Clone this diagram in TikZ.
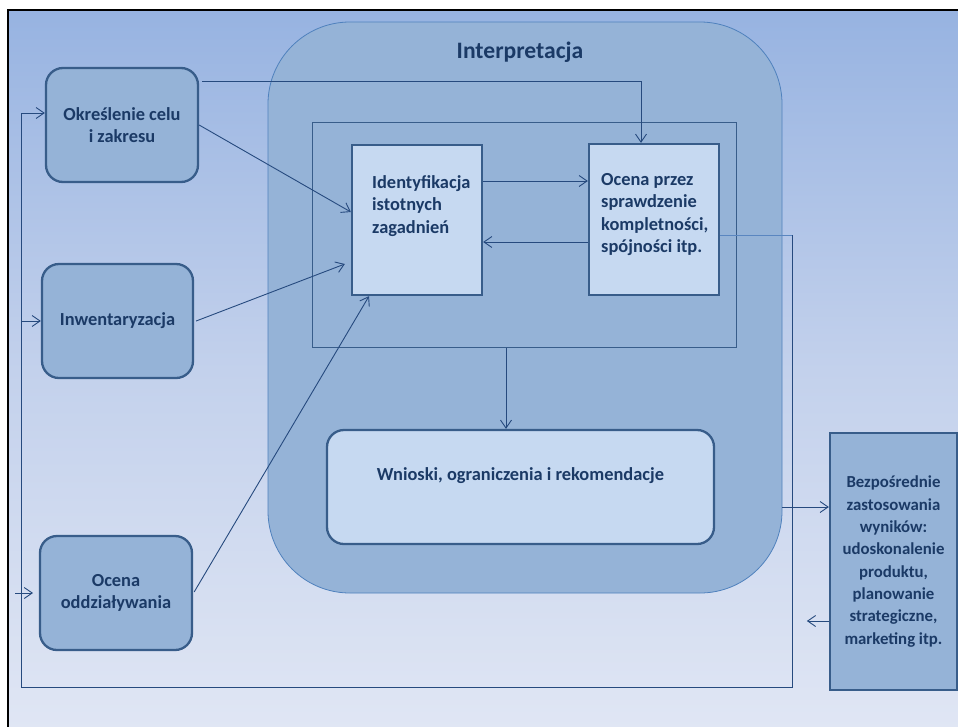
\documentclass[tikz,border=0pt]{standalone}
\usepackage{fontspec}
\setmainfont{Carlito}
\usetikzlibrary{arrows.meta,calc}
\definecolor{bgtop}{HTML}{97B3E1}
\definecolor{bgmid}{HTML}{C3D1EC}
\definecolor{bgbot}{HTML}{E0E6F4}
\definecolor{boxfill}{HTML}{95B3D7}
\definecolor{lightfill}{HTML}{C6D9F1}
\definecolor{boxline}{HTML}{385D8A}
\definecolor{bigline}{HTML}{4F81BD}
\definecolor{txt}{HTML}{1B3A66}
\definecolor{conncol}{HTML}{264A7E}
\definecolor{loopcol}{HTML}{5A86C0}
\begin{document}
\begin{tikzpicture}[x=1pt,y=-1pt,
  lbl/.style={text=txt,font=\bfseries\fontsize{18.4}{22.3}\selectfont,inner sep=0pt},
  box/.style={lbl,draw=boxline,line width=2.3pt,fill=boxfill,rounded corners=17pt,align=center},
  sqbox/.style={draw=boxline,line width=2.3pt,fill=lightfill,inner sep=0pt},
  conn/.style={draw=conncol,line width=0.9pt,-{Straight Barb[length=8pt,width=11pt]}},
  plain/.style={draw=conncol,line width=0.9pt}]
\useasboundingbox (0,0) rectangle (958,726);
\fill[white] (0,0) rectangle (958,726);
\shade[top color=bgtop,bottom color=bgbot,middle color=bgmid] (8,10) rectangle (962,730);
\draw[line width=2.5pt] (8,730) -- (8,10) -- (962,10);

% big interpretation area
\node[draw=bigline,line width=0.8pt,fill=boxfill,rounded corners=82pt,minimum width=514pt,minimum height=571pt,inner sep=0pt] (interp) at (525,307.5) {};
\node[text=txt,font=\bfseries\fontsize{23.6}{28}\selectfont,inner sep=0pt] (title) at (520,52) {Interpretacja};
\node[draw=boxline,line width=1pt,minimum width=424pt,minimum height=225pt,inner sep=0pt] (inner) at (524,234.5) {};

% left boxes
\node[box,minimum width=152pt,minimum height=114pt] (okr) at (122,125) {Określenie celu\\i zakresu};
\node[box,minimum width=151pt,minimum height=114pt] (inw) at (117.5,321) {Inwentaryzacja};
\node[box,minimum width=152pt,minimum height=114pt] (ood) at (116,593) {Ocena\\oddziaływania};

% inner boxes
\node[sqbox,minimum width=130pt,minimum height=150pt] (ident) at (417,220) {};
\node[lbl,align=left,anchor=west] (identtxt) at (372,206) {Identyfikacja\\istotnych\\zagadnień};
\node[sqbox,minimum width=130pt,minimum height=151pt] (ocena) at (654,219.5) {};
\node[lbl,align=left,anchor=west] (ocenatxt) at (601,214.5) {Ocena przez\\sprawdzenie\\kompletności,\\spójności itp.};

\node[sqbox,rounded corners=17pt,minimum width=387pt,minimum height=114pt] (wn) at (520.5,487) {};
\node[lbl] (wntxt) at (520.5,476) {Wnioski, ograniczenia i rekomendacje};

% right box
\node[box,rounded corners=0pt,font=\bfseries\fontsize{16.8}{22.3}\selectfont,minimum width=127pt,minimum height=257pt] (bez) at (893.5,561.5) {Bezpośrednie\\zastosowania\\wyników:\\udoskonalenie\\produktu,\\planowanie\\strategiczne,\\marketing itp.};

% connectors
\coordinate (c1s) at ($(okr.north east)+(3,15)$);
\draw[conn] (c1s) -| ($(ocena.north)+(-13,0)$);
\draw[conn] (okr.east) -- ($(ident.west)+(0,-8)$);
\draw[conn] ($(inw.east)+(2,0)$) -- ($(ident.west)+(-6,44)$);
\draw[conn] ($(ood.east)+(1,-1)$) -- ($(ident.south)+(-48,0)$);
\draw[conn] ($(ident.east)+(0,-39)$) -- ($(ocena.west)+(0,-38.5)$);
\draw[conn] ($(ocena.west)+(0,22.5)$) -- ($(ident.east)+(0,22)$);
\coordinate (c5s) at ($(inner.south)+(-18,0)$);
\draw[conn] (c5s) -- (c5s |- wn.north);

% feedback loop
\coordinate (la) at ($(ocena.east)+(0,15.5)$);
\coordinate (lb) at (792,235);
\coordinate (lc) at (792,687);
\coordinate (ld) at (21,687);
\coordinate (le) at (21,113);
\draw[draw=loopcol,line width=0.9pt] (la) -- (lb);
\draw[plain] (lb) -- (lc) -- (ld) -- (le);
\draw[conn] (le) -- (le -| okr.west);
\draw[conn] (le |- inw.west) -- (inw.west);
\coordinate (lf) at (15,593);
\coordinate (lg) at (33,593);
\draw[conn] (lf) -- (lg);

% to/from right box
\coordinate (c7e) at ($(bez.west)+(0,-54.5)$);
\draw[conn] (c7e -| interp.east) -- (c7e);
\coordinate (c8s) at ($(bez.west)+(0,59.5)$);
\coordinate (c8e) at ($(c8s)+(-22,0)$);
\draw[conn] (c8s) -- (c8e);
\end{tikzpicture}
\end{document}
